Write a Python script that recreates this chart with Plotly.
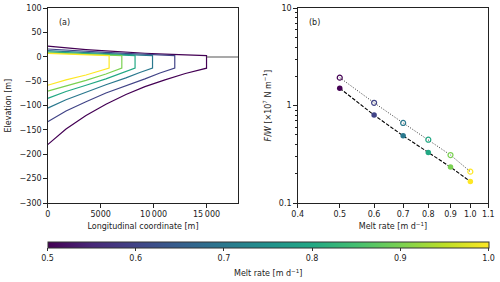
import plotly.graph_objects as go

# ---------------- data ----------------
melt_rates = [0.5, 0.6, 0.7, 0.8, 0.9, 1.0]
line_colors = ["#440154", "#414487", "#2a788e", "#22a884", "#7ad151", "#fde725"]

# panel (a): ice-shelf profiles (x, surface, base)
prof_x = [
    [0, 1730, 3615, 5500, 7390, 9185, 11070, 13000, 15000],
    [0, 1730, 3615, 5500, 7390, 9185, 10600, 12000],
    [0, 1730, 3615, 5500, 7390, 8700, 9900],
    [0, 1730, 3615, 5500, 7000, 8250],
    [0, 1730, 3615, 5500, 7000],
    [0, 1730, 3615, 5800],
]
prof_surface = [
    [22.2, 18.5, 15.2, 12.4, 9.6, 7.7, 5.8, 4.2, 2.8],
    [16.4, 13.8, 11.5, 9.3, 7.4, 5.6, 4.1, 2.8],
    [13.0, 10.9, 8.9, 7.0, 5.3, 4.0, 2.8],
    [10.5, 8.8, 7.2, 5.6, 4.1, 2.8],
    [8.7, 7.4, 5.9, 4.3, 2.8],
    [7.2, 5.8, 4.6, 2.8],
]
prof_base = [
    [-180, -148, -120, -97, -77, -61, -47, -34, -23],
    [-133, -111, -92, -74, -59, -45, -33, -23],
    [-105, -88, -72, -57, -43, -32, -23],
    [-85, -71, -58, -45, -33, -23],
    [-70, -60, -48, -35, -23],
    [-58, -47, -37, -23],
]
sea_x = [15000, 18000]
sea_y = [0, 0]

# panel (b): F/W
fw_filled = [1.51, 0.80, 0.49, 0.33, 0.234, 0.166]
fw_open = [1.94, 1.07, 0.664, 0.447, 0.311, 0.21]

viridis = [
    [0.0, "#440154"], [0.1, "#482878"], [0.2, "#414487"], [0.3, "#355f8d"],
    [0.4, "#2a788e"], [0.5, "#21918c"], [0.6, "#22a884"], [0.7, "#44bf70"],
    [0.8, "#7ad151"], [0.9, "#bddf26"], [1.0, "#fde725"],
]

FONT = "DejaVu Sans"
FS = 8
fig = go.Figure()

# ---------------- panel (a) ----------------
for i in range(len(melt_rates)):
    xs = prof_x[i] + [prof_x[i][-1]] + prof_x[i][::-1]
    ys = prof_surface[i] + [prof_base[i][-1]] + prof_base[i][::-1]
    fig.add_trace(go.Scatter(x=xs, y=ys, mode="lines",
                             line=dict(color=line_colors[i], width=1.2),
                             xaxis="x", yaxis="y", showlegend=False, hoverinfo="skip"))
fig.add_trace(go.Scatter(x=sea_x, y=sea_y, mode="lines",
                         line=dict(color="#555555", width=1.2),
                         xaxis="x", yaxis="y", showlegend=False))

# ---------------- panel (b) ----------------
fig.add_trace(go.Scatter(x=melt_rates, y=fw_open, mode="lines",
                         line=dict(color="#333333", width=1, dash="1px,1.7px"),
                         xaxis="x2", yaxis="y2", showlegend=False))
fig.add_trace(go.Scatter(x=melt_rates, y=fw_filled, mode="lines",
                         line=dict(color="black", width=1.1, dash="3.7px,1.6px"),
                         xaxis="x2", yaxis="y2", showlegend=False))
fig.add_trace(go.Scatter(x=melt_rates, y=fw_open, mode="markers",
                         marker=dict(symbol="circle-open", size=5, color=melt_rates,
                                     colorscale=viridis, cmin=0.5, cmax=1.0, line=dict(width=1.2)),
                         xaxis="x2", yaxis="y2", showlegend=False))
fig.add_trace(go.Scatter(x=melt_rates, y=fw_filled, mode="markers",
                         marker=dict(symbol="circle", size=5.5, color=melt_rates,
                                     colorscale=viridis, cmin=0.5, cmax=1.0,
                                     showscale=True,
                                     colorbar=dict(orientation="h", x=268 / 500, xanchor="center",
                                                   y=1 - 242 / 282, yanchor="top",
                                                   len=440.6 / 500, lenmode="fraction",
                                                   thickness=6, thicknessmode="pixels",
                                                   xpad=0, ypad=0,
                                                   outlinecolor="#333333", outlinewidth=1,
                                                   ticks="outside", ticklen=3, tickcolor="#333333",
                                                   tickvals=[0.5, 0.6, 0.7, 0.8, 0.9, 1.0],
                                                   ticktext=["0.5", "0.6", "0.7", "0.8", "0.9", "1.0"],
                                                   tickfont=dict(family=FONT, size=FS, color="#222222"))),
                         xaxis="x2", yaxis="y2", showlegend=False))

axis_common = dict(showline=True, linecolor="#222222", linewidth=1, mirror=True,
                   ticks="outside", ticklen=3.5, tickcolor="#222222", showgrid=False,
                   zeroline=False, tickfont=dict(family=FONT, size=FS, color="#222222"),
                   automargin=False)

fig.update_layout(
    width=500, height=282,
    margin=dict(l=0, r=0, t=0, b=0),
    paper_bgcolor="white", plot_bgcolor="white",
    font=dict(family=FONT, size=FS, color="#222222"),
    xaxis=dict(domain=[47.7 / 500, 238.3 / 500], range=[0, 18000],
               tickvals=[0, 5000, 10000, 15000],
               ticktext=["0", "5000", "10\u2009000", "15\u2009000"],
               title=dict(text="Longitudinal coordinate [m]", standoff=5,
                          font=dict(family=FONT, size=FS)),
               anchor="y", **axis_common),
    yaxis=dict(domain=[1 - 203 / 282, 1 - 8.3 / 282], range=[-300, 100],
               tickvals=[-300, -250, -200, -150, -100, -50, 0, 50, 100],
               title=dict(text="Elevation [m]", standoff=6, font=dict(family=FONT, size=FS)),
               anchor="x", **axis_common),
    xaxis2=dict(domain=[297.7 / 500, 488.3 / 500], type="log",
                range=[-0.39794, 0.041393],
                tickvals=[0.4, 0.5, 0.6, 0.7, 0.8, 0.9, 1.0, 1.1],
                ticktext=["0.4", "0.5", "0.6", "0.7", "0.8", "0.9", "1.0", "1.1"],
                title=dict(text="Melt rate [m d<sup>−1</sup>]", standoff=5,
                           font=dict(family=FONT, size=FS)),
                anchor="y2", **axis_common),
    yaxis2=dict(domain=[1 - 203 / 282, 1 - 8.3 / 282], type="log", range=[-1, 1],
                tickvals=[0.1, 1, 10], ticktext=["0.1", "1", "10"],
                minor=dict(ticks="outside", ticklen=2, tickcolor="#222222",
                           tickvals=[0.2, 0.3, 0.4, 0.5, 0.6, 0.7, 0.8, 0.9,
                                     2, 3, 4, 5, 6, 7, 8, 9]),
                title=dict(text="<i>F</i>/<i>W</i> [×10<sup>7</sup> N m<sup>−1</sup>]", standoff=6,
                           font=dict(family=FONT, size=FS)),
                anchor="x2", **axis_common),
    annotations=[
        dict(text="(a)", x=57 / 500, y=1 - 22 / 282, xref="paper", yref="paper",
             xanchor="left", yanchor="middle", showarrow=False, font=dict(family=FONT, size=FS)),
        dict(text="(b)", x=307 / 500, y=1 - 22 / 282, xref="paper", yref="paper",
             xanchor="left", yanchor="middle", showarrow=False, font=dict(family=FONT, size=FS)),
        dict(text="Melt rate [m d<sup>−1</sup>]", x=268 / 500, y=1 - 273 / 282,
             xref="paper", yref="paper", xanchor="center", yanchor="middle",
             showarrow=False, font=dict(family=FONT, size=FS, color="#222222")),
    ],
)

fig.write_html("out.html", post_script="document.body.style.margin='0';",
               config={"displayModeBar": False})
